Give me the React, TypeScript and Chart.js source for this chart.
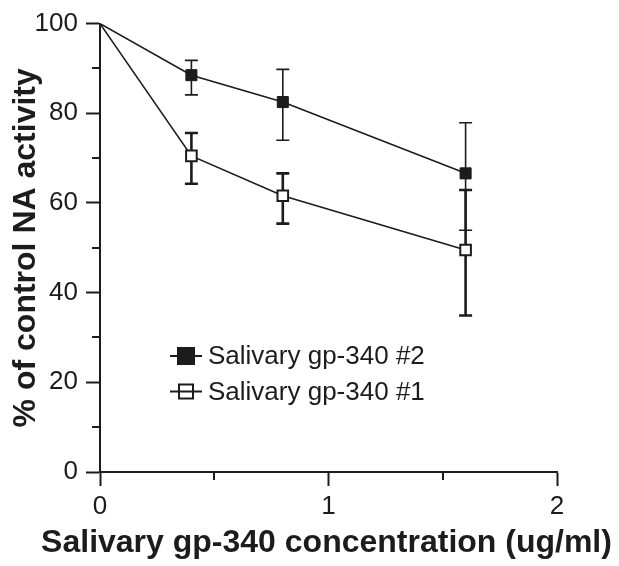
import React, { useEffect, useRef } from "react";
import { Chart, registerables } from "chart.js";

Chart.register(...registerables);

const concentrations = [0, 0.4, 0.8, 1.6];
const series2Label = "Salivary gp-340 #2";
const series2Values = [100, 88.5, 82.5, 66.6];
const series2Upper = [null, 91.8, 89.8, 77.9];
const series2Lower = [null, 84.1, 74.0, 53.9];
const series1Label = "Salivary gp-340 #1";
const series1Values = [100, 70.5, 61.6, 49.5];
const series1Upper = [null, 75.6, 66.6, 62.9];
const series1Lower = [null, 64.3, 55.4, 34.9];
const xMajorTicks = [0, 1, 2];
const xMinorTicks = [0.5, 1.5];
const yMinorTicks = [10, 30, 50, 70, 90];
const xTitle = "Salivary gp-340 concentration (ug/ml)";
const yTitle = "% of control NA activity";

const FONT = '"Liberation Sans", Arial, Helvetica, sans-serif';
const INK = "#1c1c1c";

const errorBarPlugin = {
  id: "errorBars",
  beforeDatasetsDraw(chart: any) {
    const ctx = chart.ctx;
    const xs = chart.scales.x;
    const ys = chart.scales.y;
    const sets = [
      { up: series2Upper, lo: series2Lower, w: 1.6 },
      { up: series1Upper, lo: series1Lower, w: 2.6 },
    ];
    ctx.save();
    ctx.strokeStyle = INK;
    sets.forEach((s) => {
      ctx.lineWidth = s.w;
      concentrations.forEach((c, i) => {
        const u = s.up[i];
        const l = s.lo[i];
        if (u == null || l == null) return;
        const px = xs.getPixelForValue(c);
        const pu = ys.getPixelForValue(u);
        const pl = ys.getPixelForValue(l);
        ctx.beginPath();
        ctx.moveTo(px, pu);
        ctx.lineTo(px, pl);
        ctx.moveTo(px - 6.5, pu);
        ctx.lineTo(px + 6.5, pu);
        ctx.moveTo(px - 6.5, pl);
        ctx.lineTo(px + 6.5, pl);
        ctx.stroke();
      });
    });
    ctx.restore();
  },
};

const minorTickPlugin = {
  id: "minorTicks",
  afterDraw(chart: any) {
    const ctx = chart.ctx;
    const xs = chart.scales.x;
    const ys = chart.scales.y;
    const area = chart.chartArea;
    ctx.save();
    ctx.strokeStyle = INK;
    ctx.lineWidth = 2;
    ctx.beginPath();
    xMinorTicks.forEach((v) => {
      const px = Math.round(xs.getPixelForValue(v));
      ctx.moveTo(px, area.bottom);
      ctx.lineTo(px, area.bottom + 8);
    });
    yMinorTicks.forEach((v) => {
      const py = Math.round(ys.getPixelForValue(v));
      ctx.moveTo(area.left, py);
      ctx.lineTo(area.left - 8, py);
    });
    ctx.stroke();
    // x-axis title (drawn here so it is not squeezed to the axis width)
    ctx.fillStyle = INK;
    ctx.font = `bold 32px ${FONT}`;
    ctx.textAlign = "center";
    ctx.textBaseline = "middle";
    ctx.fillText(xTitle, (area.left + area.right) / 2 - 2, 543);
    ctx.restore();
  },
};

const legendPlugin = {
  id: "customLegend",
  afterDraw(chart: any) {
    const ctx = chart.ctx;
    const items = [
      { label: series2Label, filled: true, y: 356, size: 18 },
      { label: series1Label, filled: false, y: 391.5, size: 16 },
    ];
    ctx.save();
    items.forEach((it) => {
      ctx.strokeStyle = INK;
      ctx.lineWidth = 2;
      ctx.beginPath();
      ctx.moveTo(170, it.y);
      ctx.lineTo(202, it.y);
      ctx.stroke();
      const cx = 186;
      const h = it.size / 2;
      if (it.filled) {
        ctx.fillStyle = INK;
        ctx.fillRect(cx - h, it.y - h, it.size, it.size);
      } else {
        ctx.fillStyle = "#ffffff";
        ctx.fillRect(cx - h + 1, it.y - h + 1, it.size - 2, it.size - 2);
        ctx.lineWidth = 2;
        ctx.strokeRect(cx - h + 1, it.y - h + 1, it.size - 2, it.size - 2);
        ctx.beginPath();
        ctx.moveTo(cx - h, it.y);
        ctx.lineTo(cx + h, it.y);
        ctx.stroke();
      }
      ctx.fillStyle = INK;
      ctx.font = `26px ${FONT}`;
      ctx.textBaseline = "middle";
      ctx.textAlign = "left";
      ctx.fillText(it.label, 208, it.y + 1);
    });
    ctx.restore();
  },
};

export default function App() {
  const ref = useRef<HTMLCanvasElement | null>(null);
  useEffect(() => {
    if (!ref.current) return;
    const chart = new Chart(ref.current, {
      type: "line",
      data: {
        datasets: [
          {
            label: series2Label,
            data: concentrations.map((x, i) => ({ x, y: series2Values[i] })),
            borderColor: INK,
            borderWidth: 1.6,
            pointStyle: "rect",
            pointRadius: concentrations.map((x) => (x === 0 ? 0 : 7.8)),
            pointBackgroundColor: INK,
            pointBorderColor: INK,
            pointBorderWidth: 1,
          },
          {
            label: series1Label,
            data: concentrations.map((x, i) => ({ x, y: series1Values[i] })),
            borderColor: INK,
            borderWidth: 1.6,
            pointStyle: "rect",
            pointRadius: concentrations.map((x) => (x === 0 ? 0 : 7.5)),
            pointBackgroundColor: "#ffffff",
            pointBorderColor: INK,
            pointBorderWidth: 2,
          },
        ],
      },
      options: {
        animation: false,
        responsive: false,
        devicePixelRatio: 1,
        layout: { padding: { top: 15, right: 62, left: 0, bottom: 0 } },
        plugins: {
          legend: { display: false },
          tooltip: { enabled: false },
        },
        scales: {
          x: {
            type: "linear",
            min: 0,
            max: 2,
            afterFit: (s: any) => {
              s.height = 94;
            },
            afterBuildTicks: (s: any) => {
              s.ticks = xMajorTicks.map((v) => ({ value: v }));
            },
            ticks: {
              font: { family: FONT, size: 26 },
              color: INK,
              padding: 5,
              maxRotation: 0,
            },
            grid: {
              drawOnChartArea: false,
              drawTicks: true,
              tickLength: 14,
              tickWidth: 2,
              tickColor: INK,
            },
            border: { display: true, color: INK, width: 2 },
          },
          y: {
            type: "linear",
            min: 0,
            max: 100,
            afterFit: (s: any) => {
              s.width = 100;
            },
            ticks: {
              stepSize: 20,
              font: { family: FONT, size: 26 },
              color: INK,
              padding: 8,
            },
            grid: {
              drawOnChartArea: false,
              drawTicks: true,
              tickLength: 14,
              tickWidth: 2,
              tickColor: INK,
            },
            border: { display: true, color: INK, width: 2 },
            title: {
              display: true,
              text: yTitle,
              font: { family: FONT, size: 32, weight: "bold" },
              color: INK,
              padding: { top: 7, bottom: 0 },
            },
          },
        },
      },
      plugins: [errorBarPlugin, minorTickPlugin, legendPlugin],
    } as any);
    return () => chart.destroy();
  }, []);
  return (
    <div style={{ position: "fixed", left: 0, top: 0, width: 619, height: 566, background: "#ffffff" }}>
      <canvas ref={ref} width={619} height={566} style={{ width: 619, height: 566, display: "block" }} />
    </div>
  );
}
